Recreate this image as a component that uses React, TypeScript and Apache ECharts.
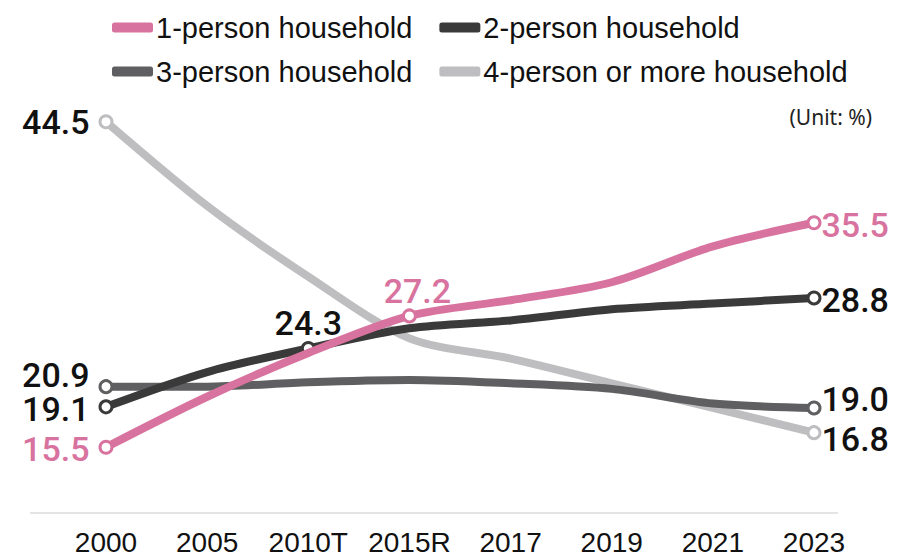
import React, { useEffect, useRef } from "react";
import * as echarts from "echarts";

const years = ["2000", "2005", "2010T", "2015R", "2017", "2019", "2021", "2023"];
const seriesNames = ["1-person household", "2-person household", "3-person household", "4-person or more household"];
const onePerson = [15.5, 20.0, 23.9, 27.2, 28.6, 30.2, 33.4, 35.5];
const twoPerson = [19.1, 22.2, 24.3, 26.1, 26.8, 27.8, 28.3, 28.8];
const threePerson = [20.9, 20.9, 21.3, 21.5, 21.2, 20.7, 19.4, 19.0];
const fourPlus = [44.5, 37.0, 30.7, 25.2, 23.4, 21.2, 19.0, 16.8];
const colors = ["#d8729e", "#3a3a3a", "#5f5f61", "#bebec0"];
const labelColors = ["#d8729e", "#111111", "#111111", "#111111"];
const unitText = "(Unit: %)";

// which points get a marker + label, and where the label sits
const labelSpec: Record<number, Record<number, any>> = {
  0: { 0: { position: "left", distance: 9, offset: [0, 2] }, 3: { position: "top", distance: 5, offset: [8, 0] }, 7: { position: "right", distance: 0, offset: [0, 2] } },
  1: { 0: { position: "left", distance: 9, offset: [0, 2] }, 2: { position: "top", distance: 6 }, 7: { position: "right", distance: 0, offset: [0, 2] } },
  2: { 0: { position: "left", distance: 9, offset: [0, -12] }, 7: { position: "right", distance: 0, offset: [0, -9] } },
  3: { 0: { position: "left", distance: 9 }, 7: { position: "right", distance: 0, offset: [0, 6] } },
};

export default function App() {
  const ref = useRef<HTMLDivElement>(null);
  useEffect(() => {
    if (!ref.current) return;
    const chart = echarts.init(ref.current, undefined, { renderer: "svg" });
    const all = [onePerson, twoPerson, threePerson, fourPlus];
    const series = all.map((vals, si) => ({
      name: seriesNames[si],
      type: "line",
      smooth: 0.3,
      symbol: "circle",
      symbolSize: 12,
      showSymbol: true,
      z: 10 - si,
      lineStyle: { color: colors[si], width: 8, cap: "round" },
      itemStyle: { color: colors[si] },
      emphasis: { disabled: true },
      data: vals.map((v, i) => {
        const spec = labelSpec[si][i];
        if (!spec) return { value: v, symbol: "none", label: { show: false } };
        return {
          value: v,
          symbol: "circle",
          symbolSize: 12,
          itemStyle: { color: "#ffffff", borderColor: colors[si], borderWidth: 3 },
          label: {
            show: true,
            position: spec.position,
            distance: spec.distance,
            offset: spec.offset || [0, 0],
            color: labelColors[si],
            fontFamily: "Roboto",
            fontWeight: 500,
            fontSize: 34,
            lineHeight: 24,
            formatter: (p: any) => Number(p.value).toFixed(1),
          },
        };
      }),
    }));
    const legendBase = {
      orient: "horizontal",
      left: 107,
      itemWidth: 41,
      itemHeight: 10,
      itemGap: 27,
      icon: "roundRect",
      selectedMode: false,
      textStyle: { fontFamily: "Liberation Sans", fontSize: 29, color: "#111111", padding: [0, 0, 0, -2] },
    };
    chart.setOption({
      animation: false,
      backgroundColor: "#ffffff",
      grid: { left: 106, right: 84, top: 60, bottom: 43 },
      legend: [
        {
          ...legendBase,
          top: 8,
          data: [0, 1].map((i) => ({ name: seriesNames[i], itemStyle: { color: colors[i], borderWidth: 0 } })),
        },
        {
          ...legendBase,
          top: 52,
          data: [2, 3].map((i) => ({ name: seriesNames[i], itemStyle: { color: colors[i], borderWidth: 0 } })),
        },
      ],
      xAxis: {
        type: "category",
        data: years,
        boundaryGap: false,
        axisLine: { show: false },
        axisTick: { show: false },
        axisLabel: { interval: 0, margin: 19, fontFamily: "Liberation Sans", fontSize: 28, color: "#111111" },
      },
      yAxis: {
        type: "value",
        min: 10,
        max: 50,
        interval: 10,
        show: false,
        splitLine: { show: false },
      },
      graphic: [
        {
          type: "line",
          shape: { x1: 30, y1: 513, x2: 838, y2: 513 },
          style: { stroke: "#e4e4e4", lineWidth: 2 },
          z: 0,
        },
        {
          type: "text",
          x: 872,
          y: 117,
          style: {
            text: unitText,
            font: "21px 'Noto Sans'",
            fill: "#222222",
            textAlign: "right",
            textVerticalAlign: "middle",
          },
        },
      ],
      series,
    });
    return () => chart.dispose();
  }, []);
  return <div ref={ref} style={{ position: "fixed", left: 0, top: 0, width: 898, height: 556, background: "#fff" }} />;
}
